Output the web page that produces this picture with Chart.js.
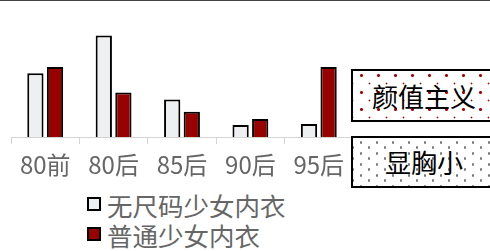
<!DOCTYPE html>
<html>
<head>
<meta charset="utf-8">
<script src="https://cdn.jsdelivr.net/npm/chart.js@4.4.1/dist/chart.umd.min.js"></script>
<style>
    html, body { margin: 0; padding: 0; background: #fff; }
    body { width: 490px; height: 251px; position: relative; overflow: hidden;
           font-family: "Noto Sans CJK SC", "Noto Sans", sans-serif; }
    #topLine { position: absolute; left: 0; top: 0; width: 490px; height: 1px; background: #444; }
    #wrap { position: absolute; left: 0; top: 0; width: 490px; height: 185px; }
    .tag { position: absolute; left: 351px; width: 146px; box-sizing: border-box;
           border: 2px solid #000; text-align: center; font-size: 26px; color: #000; }
    #tag1 { top: 69px; height: 53px; line-height: 49px;
            background-color: #fff;
            background-image: radial-gradient(circle, #b00000 1.3px, transparent 1.6px),
                              radial-gradient(circle, #b00000 0.8px, transparent 1.1px);
            background-size: 17px 17px, 17px 17px;
            background-position: 0 -4px, 8px 4px; }
    #tag2 { top: 136px; height: 52px; line-height: 48px;
            background-color: #fff;
            background-image: radial-gradient(circle, #777 1px, transparent 1.4px),
                              radial-gradient(circle, #777 1px, transparent 1.4px);
            background-size: 16px 11px, 16px 11px;
            background-position: 0 -1px, 8px 4px; }
    #legend { position: absolute; left: 87px; top: 189px; }
    .lg-row { height: 30px; display: flex; align-items: center; font-size: 25.5px; color: #666; }
    .lg-box { width: 14px; height: 14px; box-sizing: border-box; border: 2px solid #000; margin-right: 6px; }
</style>
</head>
<body>
<div id="topLine"></div>
<div id="wrap"><canvas id="chart"></canvas></div>
<div class="tag" id="tag1">颜值主义</div>
<div class="tag" id="tag2">显胸小</div>
<div id="legend"></div>
<script>
// categories and values
const categories = ['80前', '80后', '85后', '90后', '95后'];
const noSizeBra = [63, 100, 37, 12, 13];
const normalBra = [69, 44, 25, 18, 69];
const seriesNames = ['无尺码少女内衣', '普通少女内衣'];

const chart = new Chart(document.getElementById('chart'), {
    type: 'bar',
    data: {
        labels: categories,
        datasets: [{
            label: seriesNames[0],
            data: noSizeBra,
            backgroundColor: '#eeeff1',
            borderColor: '#000',
            borderWidth: 2
        }, {
            label: seriesNames[1],
            data: normalBra,
            backgroundColor: '#990000',
            borderColor: '#000',
            borderWidth: 2
        }]
    },
    options: {
        responsive: true,
        maintainAspectRatio: false,
        animation: false,
        layout: { padding: { left: 11, right: 137, top: 5, bottom: 0 } },
        categoryPercentage: 0.573,
        barPercentage: 0.83,
        plugins: {
            legend: { display: false },
            tooltip: { enabled: false }
        },
        scales: {
            y: { display: false, min: 0, max: 130 },
            x: {
                grid: {
                    offset: true,
                    drawOnChartArea: false,
                    tickLength: 7,
                    color: '#d4d4d4'
                },
                border: { color: '#d4d4d4', width: 1 },
                ticks: {
                    color: '#666',
                    padding: 6,
                    maxRotation: 0,
                    font: { size: 24, family: '"Noto Sans CJK SC", "Noto Sans", sans-serif' }
                }
            }
        }
    }
});

// html legend built from the datasets
const legendEl = document.getElementById('legend');
chart.data.datasets.forEach(ds => {
    const row = document.createElement('div');
    row.className = 'lg-row';
    const box = document.createElement('span');
    box.className = 'lg-box';
    box.style.background = ds.backgroundColor;
    const txt = document.createElement('span');
    txt.textContent = ds.label;
    row.appendChild(box); row.appendChild(txt);
    legendEl.appendChild(row);
});
</script>
</body>
</html>
